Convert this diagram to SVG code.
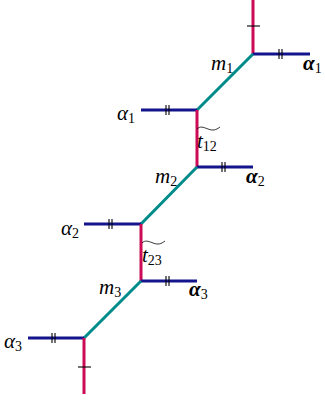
<svg xmlns="http://www.w3.org/2000/svg" width="325" height="402" viewBox="0 0 325 402">
<style>
.r{stroke:#cc0a55;stroke-width:3;fill:none}
.b{stroke:#14148c;stroke-width:3;fill:none}
.g{stroke:#008b8b;stroke-width:3;fill:none}
.k{stroke:#000;stroke-width:1.1;fill:none}
.tl{stroke:#000;stroke-width:0.8;fill:none}
.t{font-family:"Liberation Serif",serif;font-style:italic;font-size:21px;fill:#000}
.bt{font-family:"Liberation Serif",serif;font-style:italic;font-weight:bold;font-size:21px;fill:#000}
.s{font-style:normal;font-weight:normal;font-size:14px}
</style>
<g id="connectors">
<line class="r" x1="253" y1="0" x2="253" y2="54"/>
<line class="k" x1="247" y1="26" x2="260" y2="26"/>
<line class="b" x1="253" y1="54" x2="310" y2="54"/>
<path class="k" d="M279 49v10M282 49v10"/>
<line class="g" x1="253" y1="54" x2="197" y2="110"/>
<line class="b" x1="141" y1="110" x2="197" y2="110"/>
<path class="k" d="M166 105v10M169 105v10"/>
<line class="r" x1="197" y1="110" x2="197" y2="167"/>
<line class="b" x1="197" y1="167" x2="253" y2="167"/>
<path class="k" d="M222 162v10M225 162v10"/>
<line class="g" x1="197" y1="167" x2="141" y2="224"/>
<line class="b" x1="84" y1="224" x2="141" y2="224"/>
<path class="k" d="M109 219v10M112 219v10"/>
<line class="r" x1="141" y1="224" x2="141" y2="281"/>
<line class="b" x1="141" y1="281" x2="197" y2="281"/>
<path class="k" d="M166 276v10M169 276v10"/>
<line class="g" x1="141" y1="281" x2="84" y2="338"/>
<line class="b" x1="28" y1="338" x2="84" y2="338"/>
<path class="k" d="M52 333v10M55 333v10"/>
<line class="r" x1="84" y1="338" x2="84" y2="394"/>
<line class="k" x1="78" y1="367" x2="91" y2="367"/>
</g>
<g id="labels">
<text class="t" x="211" y="70">m<tspan class="s" dy="3">1</tspan></text>
<text class="bt" x="303" y="70">α<tspan class="s" dy="3">1</tspan></text>
<text class="t" x="117" y="120">α<tspan class="s" dy="3">1</tspan></text>
<g id="t12">
<path class="tl" d="M197 129c3-3 6-2 11 0s8 1 12-2"/>
<text class="t" x="197" y="148">t<tspan class="s" dy="3">12</tspan></text>
</g>
<text class="t" x="155" y="183">m<tspan class="s" dy="3">2</tspan></text>
<text class="bt" x="246" y="183">α<tspan class="s" dy="3">2</tspan></text>
<text class="t" x="61" y="235">α<tspan class="s" dy="3">2</tspan></text>
<g id="t23">
<path class="tl" d="M142 243c3-3 6-2 11 0s8 1 12-2"/>
<text class="t" x="142" y="262">t<tspan class="s" dy="3">23</tspan></text>
</g>
<text class="t" x="99" y="294">m<tspan class="s" dy="3">3</tspan></text>
<text class="bt" x="189" y="296">α<tspan class="s" dy="3">3</tspan></text>
<text class="t" x="4" y="348">α<tspan class="s" dy="3">3</tspan></text>
</g>
</svg>
